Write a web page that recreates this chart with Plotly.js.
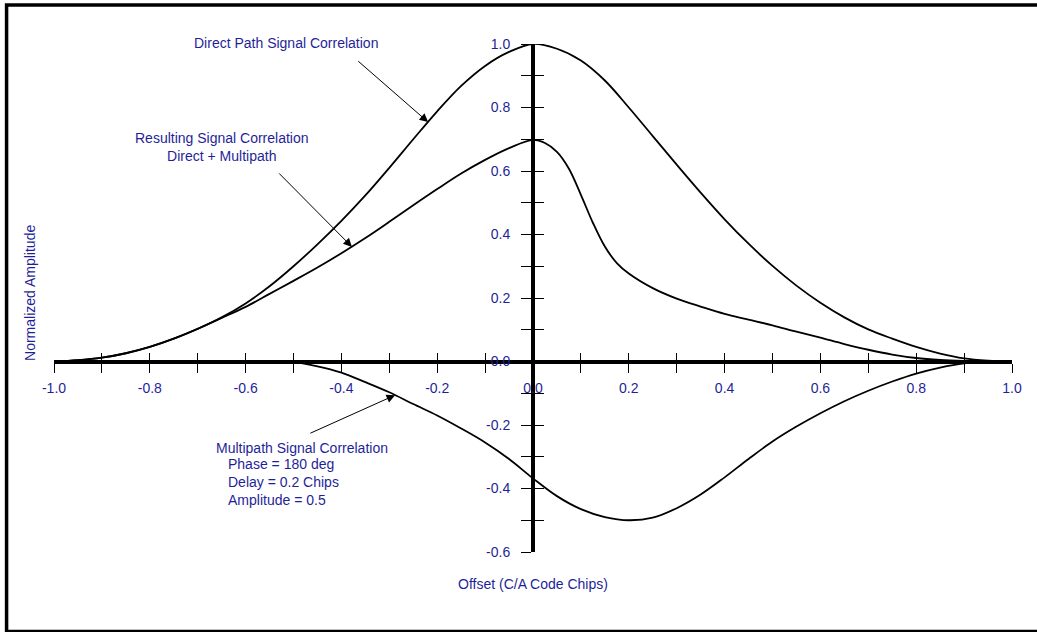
<!DOCTYPE html>
<html>
<head>
<meta charset="utf-8">
<script src="https://cdn.plot.ly/plotly-3.0.1.min.js"></script>
<style>html,body{margin:0;padding:0;background:#fff;}#chart{width:1037px;height:632px;}</style>
</head>
<body>
<div id="chart"></div>
<script>
// ---- data ----
const directX = [-1.0,-0.95,-0.9,-0.85,-0.8,-0.75,-0.7,-0.65,-0.6,-0.55,-0.5,-0.45,-0.4,-0.35,-0.3,-0.25,-0.2,-0.15,-0.1,-0.05,0.0,0.05,0.1,0.15,0.2,0.25,0.3,0.35,0.4,0.45,0.5,0.55,0.6,0.65,0.7,0.75,0.8,0.85,0.9,0.95,1.0];
const directY = [0.0,0.004,0.012,0.026,0.046,0.072,0.103,0.139,0.183,0.237,0.300,0.369,0.443,0.523,0.610,0.700,0.788,0.868,0.931,0.975,1.0,0.985,0.948,0.885,0.800,0.710,0.620,0.532,0.448,0.371,0.301,0.239,0.185,0.139,0.101,0.072,0.046,0.025,0.010,0.003,0.0];

const resultX = [-1.0,-0.95,-0.9,-0.85,-0.8,-0.75,-0.7,-0.65,-0.6,-0.55,-0.5,-0.45,-0.4,-0.35,-0.3,-0.25,-0.2,-0.15,-0.1,-0.05,0.0,0.025,0.05,0.075,0.1,0.125,0.15,0.175,0.2,0.25,0.3,0.35,0.4,0.45,0.5,0.55,0.6,0.65,0.7,0.75,0.8,0.85,0.9,0.95,1.0];
const resultY = [0.0,0.004,0.012,0.026,0.046,0.072,0.103,0.137,0.172,0.213,0.254,0.296,0.341,0.389,0.440,0.492,0.543,0.592,0.635,0.672,0.698,0.688,0.660,0.607,0.525,0.437,0.362,0.310,0.277,0.231,0.198,0.173,0.150,0.132,0.114,0.094,0.075,0.055,0.037,0.022,0.011,0.005,0.002,0.0005,0.0];

const multiX = [-0.6,-0.55,-0.5,-0.45,-0.4,-0.35,-0.3,-0.25,-0.2,-0.15,-0.1,-0.05,0.0,0.05,0.1,0.15,0.2,0.25,0.3,0.35,0.4,0.45,0.5,0.55,0.6,0.65,0.7,0.75,0.8,0.85,0.9,0.95,1.0];
const multiY = [0.0,0.0,-0.002,-0.015,-0.035,-0.065,-0.097,-0.134,-0.170,-0.211,-0.255,-0.307,-0.368,-0.424,-0.465,-0.490,-0.500,-0.492,-0.462,-0.419,-0.365,-0.307,-0.252,-0.205,-0.163,-0.125,-0.092,-0.063,-0.038,-0.019,-0.006,-0.001,0.0];

const xTickVals = [-1.0,-0.9,-0.8,-0.7,-0.6,-0.5,-0.4,-0.3,-0.2,-0.1,0.0,0.1,0.2,0.3,0.4,0.5,0.6,0.7,0.8,0.9,1.0];
const xTickText = ["-1.0","","-0.8","","-0.6","","-0.4","","-0.2","","0.0","","0.2","","0.4","","0.6","","0.8","","1.0"];
const yTickVals = [-0.6,-0.5,-0.4,-0.3,-0.2,-0.1,0.0,0.1,0.2,0.3,0.4,0.5,0.6,0.7,0.8,0.9,1.0];
const yTickText = ["-0.6","","-0.4","","-0.2","","0.0","","0.2","","0.4","","0.6","","0.8","","1.0"];

const xLabel = "Offset (C/A Code Chips)";
const yLabel = "Normalized Amplitude";

// ---- styling ----
const navy = "#1f1f99";
const font = "Liberation Sans, Arial, sans-serif";
const curve = {color: "#000", width: 1.8, shape: "spline", smoothing: 1};

const traces = [
  {x: directX, y: directY, type: "scatter", mode: "lines", line: curve, hoverinfo: "skip", cliponaxis: false},
  {x: resultX, y: resultY, type: "scatter", mode: "lines", line: curve, hoverinfo: "skip", cliponaxis: false},
  {x: multiX, y: multiY, type: "scatter", mode: "lines", line: curve, hoverinfo: "skip", cliponaxis: false},
  {x: [], y: [], xaxis: "x2", yaxis: "y2", type: "scatter", mode: "lines", hoverinfo: "skip", showlegend: false}
];

const xBase = {range: [-1, 1], tickmode: "array", tickvals: xTickVals, showgrid: false, zeroline: false,
  anchor: "free", position: 0.375, tickcolor: "#000", tickwidth: 1, ticklen: 9, fixedrange: true};
const yBase = {range: [-0.6, 1.0], tickmode: "array", tickvals: yTickVals, showgrid: false, zeroline: false,
  anchor: "free", position: 0.5, tickcolor: "#000", tickwidth: 1, ticklen: 10, fixedrange: true};

const arrowStyle = {text: "", showarrow: true, arrowhead: 2, arrowsize: 1.7, arrowwidth: 1, arrowcolor: "#000",
  xref: "x", yref: "y", axref: "x", ayref: "y", standoff: 0, startstandoff: 0};
const txt = (o) => Object.assign({showarrow: false, xref: "paper", yref: "paper",
  font: {family: font, size: 14, color: navy}}, o);

const layout = {
  width: 1037, height: 632,
  margin: {l: 54, r: 25, t: 44, b: 80},
  paper_bgcolor: "#fff", plot_bgcolor: "#fff",
  showlegend: false,
  font: {family: font, size: 14, color: navy},
  xaxis: Object.assign({}, xBase, {ticktext: xTickText, ticks: "outside", showline: true, linewidth: 4, linecolor: "#000",
    ticklabelstandoff: 4, tickfont: {family: font, size: 14, color: navy}}),
  xaxis2: Object.assign({}, xBase, {overlaying: "x", ticks: "inside", showticklabels: false, showline: false}),
  yaxis: Object.assign({}, yBase, {ticktext: yTickText, ticks: "outside", showline: true, linewidth: 4, linecolor: "#000",
    ticklabelstandoff: 8, tickfont: {family: font, size: 14, color: navy}}),
  yaxis2: Object.assign({}, yBase, {overlaying: "y", ticks: "inside", showticklabels: false, showline: false}),
  shapes: [
    {type: "rect", xref: "paper", yref: "paper", x0: -0.0495, x1: 1.04, y0: -0.1565, y1: 1.0768,
     line: {color: "#000", width: 3.5}, fillcolor: "rgba(0,0,0,0)", layer: "above"}
  ],
  annotations: [
    txt({text: yLabel, x: -0.025, y: 0.51, textangle: -90, xanchor: "center", yanchor: "middle"}),
    txt({text: xLabel, x: 0.5, y: -0.063, xanchor: "center", yanchor: "middle"}),
    txt({text: "Direct Path Signal Correlation", x: 0.242, y: 1.002, xanchor: "center", yanchor: "middle"}),
    txt({text: "Resulting Signal Correlation<br>Direct + Multipath", x: 0.175, y: 0.798, xanchor: "center", yanchor: "middle", align: "center"}),
    txt({text: "Multipath Signal Correlation", x: (214 - 54) / 958, y: (552 - 447.5) / 508, xanchor: "left", yanchor: "middle"}),
    txt({text: "Phase = 180 deg<br>Delay = 0.2 Chips<br>Amplitude = 0.5", x: (226 - 54) / 958, y: (552 - 481.7) / 508, xanchor: "left", yanchor: "middle", align: "left"}),
    Object.assign({}, arrowStyle, {x: -0.219, y: 0.754, ax: -0.368, ay: 0.950}),
    Object.assign({}, arrowStyle, {x: -0.378, y: 0.361, ax: -0.533, ay: 0.597}),
    Object.assign({}, arrowStyle, {x: -0.288, y: -0.106, ax: -0.468, ay: -0.228})
  ]
};

Plotly.newPlot("chart", traces, layout, {staticPlot: true, displayModeBar: false});
</script>
</body>
</html>
